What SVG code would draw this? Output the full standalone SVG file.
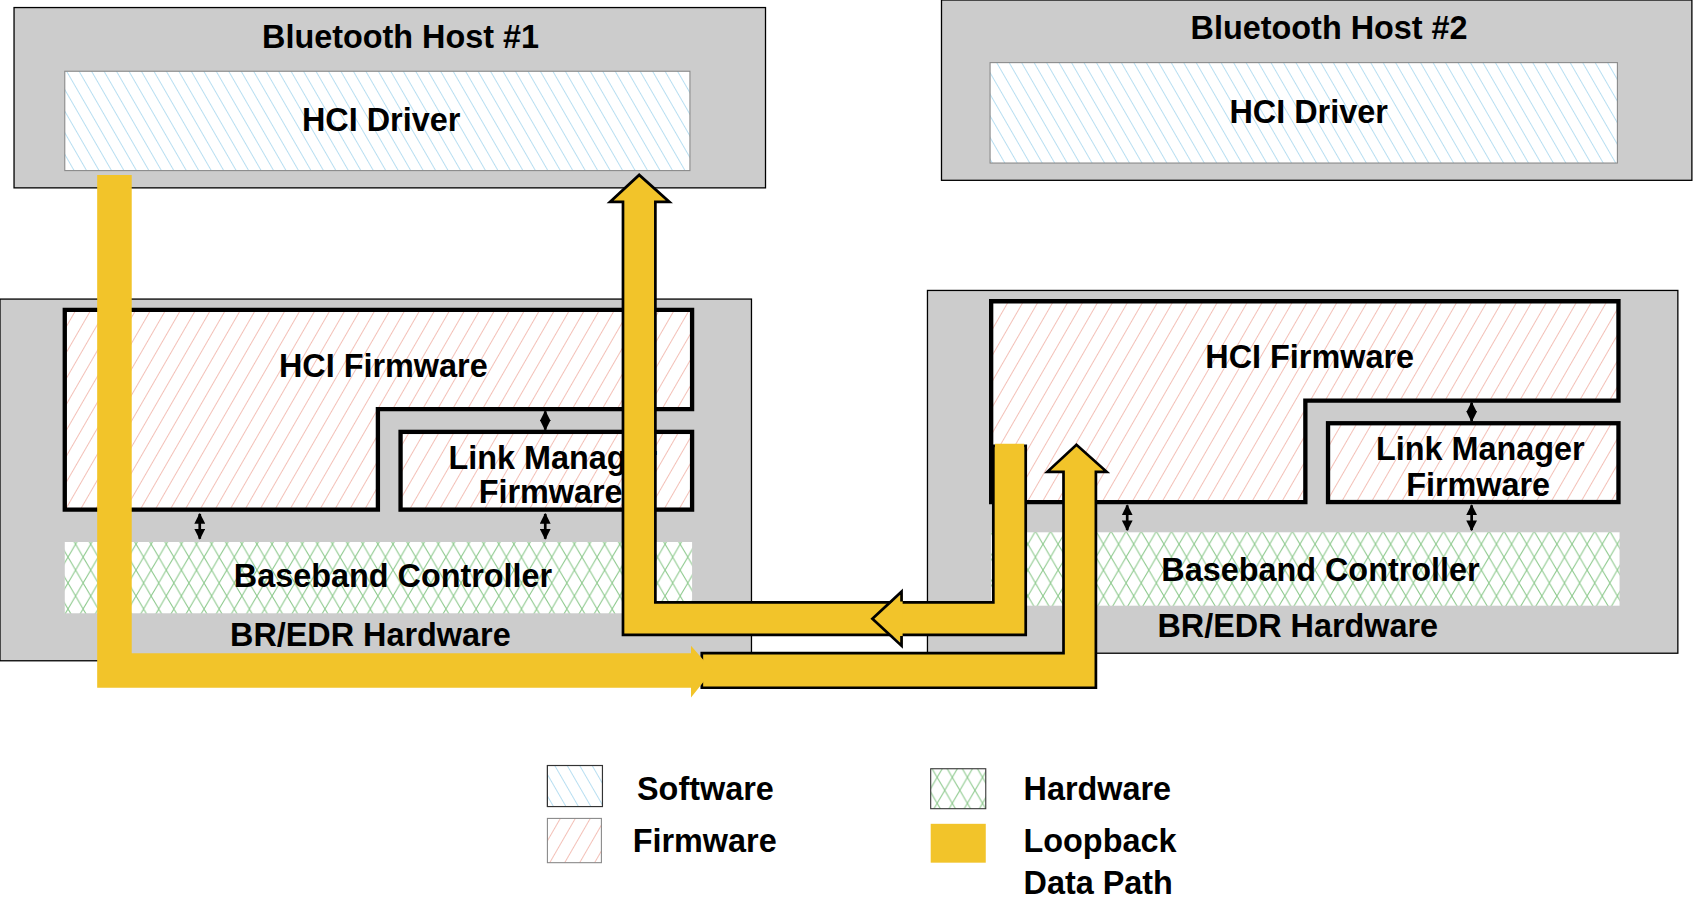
<svg xmlns="http://www.w3.org/2000/svg" width="1693" height="908" viewBox="0 0 1693 908">
<style>
.box{fill:#cccccc;stroke:#000;stroke-width:1.2}
.t{font-family:"Liberation Sans",Arial,sans-serif;font-weight:bold;font-size:30px;fill:#000;text-anchor:middle}
.tl{font-family:"Liberation Sans",Arial,sans-serif;font-weight:bold;font-size:30px;fill:#000}
.sw{fill:url(#sw);stroke:#555;stroke-width:1}
.fw{fill:url(#fw);stroke:#000;stroke-width:4}
.hw{fill:url(#hw);stroke:none}
.y{fill:#f2c42a;stroke:none}
.yo{fill:#f2c42a;stroke:#000;stroke-width:2.5}
.dbl{stroke:#000;stroke-width:2.5;fill:none;marker-start:url(#ah);marker-end:url(#ah)}
</style>
<defs>
<pattern id="sw" width="10" height="10" patternUnits="userSpaceOnUse" patternTransform="rotate(-30)">
<rect width="10" height="10" fill="#fff"/><line x1="0" y1="0" x2="0" y2="10" stroke="#7cc3e6" stroke-width="1"/></pattern>
<pattern id="fw" width="12" height="12" patternUnits="userSpaceOnUse" patternTransform="rotate(30)">
<rect width="12" height="12" fill="#fff"/><line x1="0" y1="0" x2="0" y2="12" stroke="#e98a7a" stroke-width="1"/></pattern>
<pattern id="hw" width="14" height="24" patternUnits="userSpaceOnUse">
<rect width="14" height="24" fill="#fff"/><path d="M0,0 L14,24 M14,0 L0,24" stroke="#8cc98c" stroke-width="1"/></pattern>
<marker id="ah" viewBox="0 0 10 10" refX="9" refY="5" markerWidth="4" markerHeight="4" orient="auto-start-reverse"><path d="M0,0 L10,5 L0,10 Z" fill="#000"/></marker>
</defs>
<g transform="scale(1.0797)">
<g id="host1">
<rect class="box" x="13" y="7" width="696" height="167"/>
<text class="t" x="371" y="44">Bluetooth Host  #1</text>
<rect class="sw" x="60" y="66" width="579" height="92" style="stroke:#888"/>
<text class="t" x="353" y="121">HCI Driver</text>
</g>
<g id="host2">
<rect class="box" x="872" y="0" width="695" height="167"/>
<text class="t" x="1231" y="36">Bluetooth Host  #2</text>
<rect class="sw" x="917" y="58" width="581" height="93" style="stroke:#888"/>
<text class="t" x="1212" y="114">HCI Driver</text>
</g>
<g id="ctrl1">
<rect class="box" x="0" y="277" width="696" height="335"/>
<polygon class="fw" points="60,287 641,287 641,379 350,379 350,472 60,472"/>
<text class="t" x="355" y="349">HCI Firmware</text>
<rect class="fw" x="371" y="400" width="270" height="72"/>
<text class="t" x="512" y="434">Link Manager</text>
<text class="t" x="510" y="466">Firmware</text>
<rect class="hw" x="60" y="502" width="581" height="66"/>
<text class="t" x="364" y="544">Baseband Controller</text>
<text class="t" x="343" y="598">BR/EDR Hardware</text>
</g>
<g id="ctrl2">
<rect class="box" x="859" y="269" width="695" height="336"/>
<polygon class="fw" points="918,279 1499,279 1499,371 1209,371 1209,465 918,465"/>
<text class="t" x="1213" y="341">HCI Firmware</text>
<rect class="fw" x="1230" y="392" width="269" height="73"/>
<text class="t" x="1371" y="426">Link Manager</text>
<text class="t" x="1369" y="459">Firmware</text>
<rect class="hw" x="918" y="493" width="582" height="68"/>
<text class="t" x="1223" y="538">Baseband Controller</text>
<text class="t" x="1202" y="590">BR/EDR Hardware</text>
</g>
<g id="connectors">
<line class="dbl" x1="505" y1="381" x2="505" y2="398"/>
<line class="dbl" x1="185" y1="476" x2="185" y2="499"/>
<line class="dbl" x1="505" y1="476" x2="505" y2="499"/>
<line class="dbl" x1="1363" y1="373" x2="1363" y2="390"/>
<line class="dbl" x1="1044" y1="468" x2="1044" y2="491"/>
<line class="dbl" x1="1363" y1="468" x2="1363" y2="491"/>
<polygon class="yo" points="650,605 985,605 985,437 970,437 997,412 1025,437 1015,437 1015,637 650,637"/>
<polygon class="y" points="90,162 122,162 122,605 640,605 640,598 660,621 640,646 640,637 90,637"/>
<polygon class="yo" points="577,588 950,588 950,413 920,413 920,558 607,558 607,187 620,187 592,162 565,187 577,187"/>
<rect class="y" x="921.5" y="411" width="27" height="4"/>
<polygon class="y" points="836,549 808,573 836,597"/>
<polyline points="835,557 835,548 808,573 835,598 835,589" fill="none" stroke="#000" stroke-width="2.5"/>
</g>
<g id="legend">
<rect class="sw" x="507" y="709" width="51" height="38" style="fill:url(#sw);stroke:#333"/>
<rect x="507" y="709" width="51" height="38" fill="none" stroke="#333"/>
<text class="tl" x="590" y="741">Software</text>
<rect x="507" y="758" width="50" height="41" fill="url(#fw)" stroke="#888"/>
<text class="tl" x="586" y="789">Firmware</text>
<rect x="862" y="712" width="51" height="37" fill="url(#hw)" stroke="#333"/>
<text class="tl" x="948" y="741">Hardware</text>
<rect x="862" y="763" width="51" height="36" fill="#f2c42a"/>
<text class="tl" x="948" y="789">Loopback</text>
<text class="tl" x="948" y="828">Data Path</text>
</g>
</g>
</svg>
